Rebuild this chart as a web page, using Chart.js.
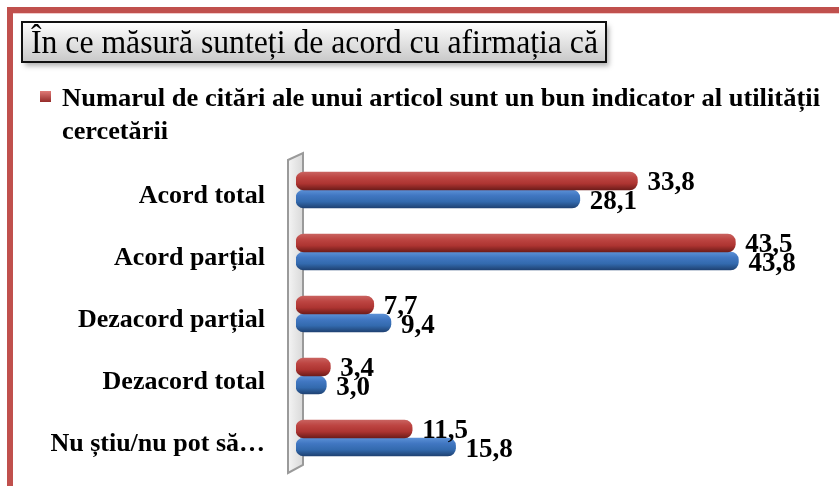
<!DOCTYPE html>
<html>
<head>
<meta charset="utf-8">
<script src="https://cdn.jsdelivr.net/npm/chart.js@4/dist/chart.umd.min.js"></script>
<style>
  html, body { margin: 0; padding: 0; background: #fff; }
  #grafic { display: block; }
</style>
</head>
<body>
<div style="width:839px;height:486px;">
  <canvas id="grafic" width="839" height="486"></canvas>
</div>
<script>
// date
const categorii = ["Acord total", "Acord parțial", "Dezacord parțial", "Dezacord total", "Nu știu/nu pot să…"];
const citari = [33.8, 43.5, 7.7, 3.4, 11.5];
const serieAlbastra = [28.1, 43.8, 9.4, 3.0, 15.8];
const etichetaCitari = ["33,8", "43,5", "7,7", "3,4", "11,5"];
const etichetaAlbastra = ["28,1", "43,8", "9,4", "3,0", "15,8"];

const titlu = "În ce măsură sunteți de acord cu afirmația că";
const legenda = ["Numarul de citări ale unui articol sunt un bun indicator al utilității", "cercetării"];

const FONT = "'Liberation Serif', 'DejaVu Serif', serif";
const GROSIME = 18;

// gradient de "cilindru" pentru fiecare bara
function cilindru(context, stopuri) {
  const chart = context.chart;
  const y = chart.scales.y;
  if (!chart.chartArea || !y) return stopuri[2];
  const c = y.getPixelForValue(context.dataIndex) + (context.datasetIndex === 0 ? -GROSIME / 2 : GROSIME / 2);
  const g = chart.ctx.createLinearGradient(0, c - GROSIME / 2, 0, c + GROSIME / 2);
  g.addColorStop(0, stopuri[0]);
  g.addColorStop(0.3, stopuri[1]);
  g.addColorStop(0.65, stopuri[2]);
  g.addColorStop(1, stopuri[3]);
  return g;
}

// text comprimat/intins pe o latime data
function textPeLatime(ctx, text, x, y, latime) {
  const w = ctx.measureText(text).width;
  ctx.save();
  ctx.translate(x, y);
  ctx.scale(latime / w, 1);
  ctx.fillText(text, 0, 0);
  ctx.restore();
}

const decor = {
  id: "decor",
  beforeDraw(chart) {
    const ctx = chart.ctx;
    ctx.save();
    // rama rosie
    ctx.fillStyle = "#c0504d";
    ctx.fillRect(7, 7, 832, 6);
    ctx.fillRect(7, 7, 6, 479);
    ctx.fillStyle = "#f2c9c8";
    ctx.fillRect(13, 13, 826, 1);

    // caseta titlului
    ctx.shadowColor = "rgba(0,0,0,0.3)";
    ctx.shadowOffsetX = 3;
    ctx.shadowOffsetY = 4;
    ctx.shadowBlur = 5;
    const g = ctx.createLinearGradient(0, 22, 0, 62);
    g.addColorStop(0, "#ffffff");
    g.addColorStop(1, "#c8c8c8");
    ctx.fillStyle = g;
    ctx.fillRect(22, 22, 584, 40);
    ctx.shadowColor = "transparent";
    ctx.strokeStyle = "#111";
    ctx.lineWidth = 2;
    ctx.strokeRect(22, 22, 584, 40);
    ctx.fillStyle = "#000";
    ctx.font = "33px " + FONT;
    ctx.textBaseline = "alphabetic";
    textPeLatime(ctx, titlu, 31, 53, 567);

    // legenda
    const m = ctx.createLinearGradient(0, 91, 0, 103);
    m.addColorStop(0, "#e07a77");
    m.addColorStop(1, "#8e2422");
    ctx.fillStyle = m;
    ctx.fillRect(40, 91, 11, 11);
    ctx.fillStyle = "#000";
    ctx.font = "bold 25px " + FONT;
    textPeLatime(ctx, legenda[0], 62, 106, 758);
    textPeLatime(ctx, legenda[1], 62, 139, 106);
    ctx.restore();
  },
  beforeDatasetsDraw(chart) {
    // peretele axei
    const a = chart.chartArea;
    const ctx = chart.ctx;
    ctx.save();
    ctx.beginPath();
    ctx.moveTo(a.left - 8, a.top + 1);
    ctx.lineTo(a.left + 7, a.top - 6);
    ctx.lineTo(a.left + 7, a.bottom - 4);
    ctx.lineTo(a.left - 8, a.bottom + 4);
    ctx.closePath();
    const g = ctx.createLinearGradient(a.left - 8, 0, a.left + 7, 0);
    g.addColorStop(0, "#f4f4f4");
    g.addColorStop(1, "#d9d9d9");
    ctx.fillStyle = g;
    ctx.fill();
    ctx.strokeStyle = "#9a9a9a";
    ctx.lineWidth = 2;
    ctx.stroke();
    ctx.restore();
  },
  afterDatasetsDraw(chart) {
    const ctx = chart.ctx;
    const etichete = [etichetaCitari, etichetaAlbastra];
    ctx.save();
    ctx.fillStyle = "#000";
    ctx.font = "bold 27px " + FONT;
    ctx.textBaseline = "middle";
    ctx.textAlign = "left";
    chart.data.datasets.forEach((ds, i) => {
      chart.getDatasetMeta(i).data.forEach((bar, j) => {
        ctx.fillText(etichete[i][j], bar.x + 10, bar.y + (i === 0 ? 2 : 3));
      });
    });
    ctx.restore();
  }
};

const config = {
  type: "bar",
  data: {
    labels: categorii,
    datasets: [
      {
        label: legenda.join(" "),
        data: citari,
        backgroundColor: (c) => cilindru(c, ["#c9625f", "#bd4542", "#ad3431", "#6e1c1a"]),
      },
      {
        label: "Seria 2",
        data: serieAlbastra,
        backgroundColor: (c) => cilindru(c, ["#5b90d6", "#4177c2", "#336aae", "#1f4273"]),
      },
    ],
  },
  options: {
    indexAxis: "y",
    responsive: false,
    animation: false,
    layout: {
      padding: { top: 159, bottom: 17, right: 38, left: 0 },
    },
    datasets: {
      bar: {
        barThickness: GROSIME,
        borderRadius: 8,
        borderSkipped: false,
        borderWidth: 0,
      },
    },
    plugins: {
      legend: { display: false },
      title: { display: false },
      tooltip: { enabled: false },
    },
    scales: {
      x: {
        display: false,
        min: 0,
        max: 50,
      },
      y: {
        grid: { display: false },
        border: { display: false },
        afterFit: (scale) => {
          scale.width = 296;
          scale.paddingTop = 0;
          scale.paddingBottom = 0;
        },
        ticks: {
          color: "#000",
          padding: 23,
          labelOffset: 6,
          font: { family: FONT, size: 26, weight: "bold" },
        },
      },
    },
  },
  plugins: [decor],
};

const grafic = new Chart(document.getElementById("grafic").getContext("2d"), config);
</script>
</body>
</html>
